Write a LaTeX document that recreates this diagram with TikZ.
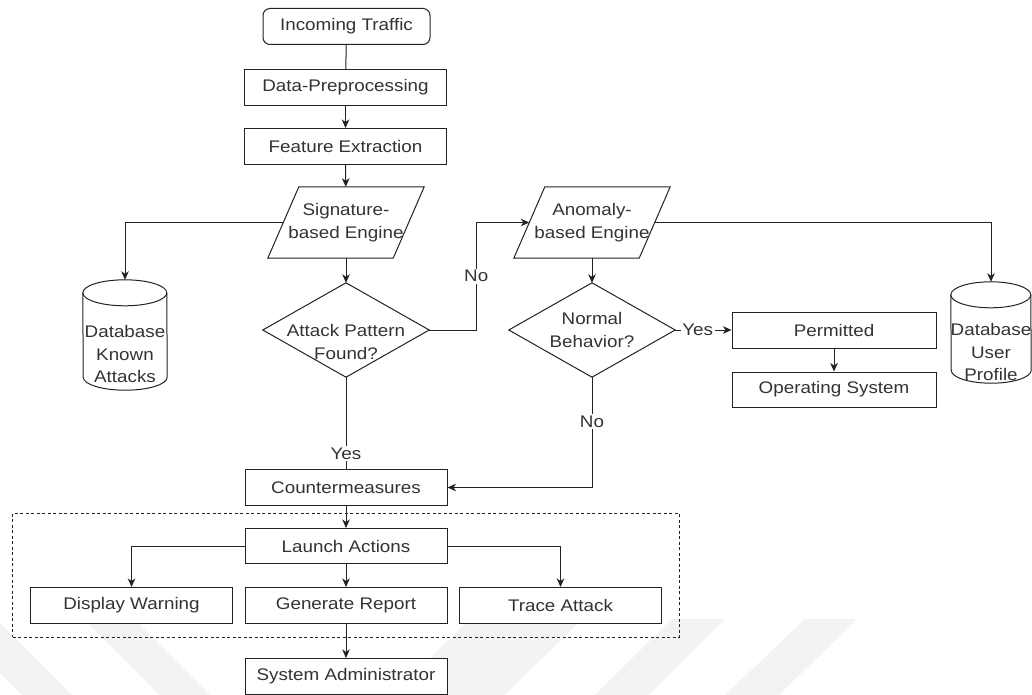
\documentclass[tikz,border=0pt]{standalone}
\usepackage{fontspec}
\setmainfont[FakeStretch=1.12]{Liberation Sans}
\usetikzlibrary{arrows.meta,calc}
\definecolor{ink}{RGB}{34,34,34}
\definecolor{txt}{RGB}{51,51,51}
\definecolor{stripegray}{RGB}{243,243,243}

\begin{document}
\begin{tikzpicture}[x=1pt,y=-1pt,
  font=\fontsize{16.8}{22.5}\selectfont, text=txt,
  line/.style={draw=ink, line width=1pt},
  arr/.style={line, -{Stealth[length=8.5pt,width=7.5pt,inset=2.5pt]}},
  box/.style={line, fill=white, minimum width=202pt, minimum height=36pt, inner sep=0pt},
  area/.style 2 args={minimum width=#1, minimum height=#2, inner sep=0pt, align=center},
  lbl/.style={fill=white, inner sep=1.5pt, text=txt},
]
\useasboundingbox (0,0) rectangle (1032,695);

% faint background stripes
\fill[stripegray] (-54,619) -- (-4,619) -- (72,695) -- (22,695) -- cycle;
\fill[stripegray] (84,619) -- (134,619) -- (210,695) -- (160,695) -- cycle;
\fill[stripegray] (470,619) -- (582,619) -- (505,695) -- (393,695) -- cycle;
\fill[stripegray] (672,619) -- (725,619) -- (649,695) -- (595,695) -- cycle;
\fill[stripegray] (805,619) -- (857,619) -- (779,695) -- (725,695) -- cycle;

% ---- main column ----
\node[box, rounded corners=7pt, minimum width=167pt] (inc) at (346.5,26.5) {Incoming Traffic};
\node[box] (pre) at (345.5,87.5) {Data-Preprocessing};
\node[box] (feat) at (345.5,146.5) {Feature Extraction};

% signature engine (parallelogram)
\node[area={125pt}{71pt}] (sig) at (346,222.5) {Signature-\\based Engine};
\draw[line] ([xshift=-15.5pt]sig.south west) -- ([xshift=15.5pt]sig.north west)
  -- ([xshift=15.5pt]sig.north east) -- ([xshift=-15.5pt]sig.south east) -- cycle;

% anomaly engine (parallelogram)
\node[area={125pt}{71pt}] (anom) at (592,222.5) {Anomaly-\\based Engine};
\draw[line] ([xshift=-15.5pt]anom.south west) -- ([xshift=15.5pt]anom.north west)
  -- ([xshift=15.5pt]anom.north east) -- ([xshift=-15.5pt]anom.south east) -- cycle;

% decisions
\node[area={166pt}{94pt}] (att) at (346,330) {};
\draw[line] (att.north) -- (att.east) -- (att.south) -- (att.west) -- cycle;
\node[align=center, inner sep=0pt] (attT) at ([yshift=-12pt]att.center) {Attack Pattern\\Found?};

\node[area={166pt}{94pt}] (nb) at (592,330) {};
\draw[line] (nb.north) -- (nb.east) -- (nb.south) -- (nb.west) -- cycle;
\node[align=center, inner sep=0pt] (nbT) at (nb.center) {Normal\\Behavior?};

% databases (cylinders)
\node[area={84pt}{110pt}] (db1) at (125,335) {};
\draw[line] ([yshift=-13pt]db1.north west)
  arc[start angle=180, end angle=0, x radius=42pt, y radius=13pt]
  -- ([yshift=13pt]db1.south east)
  arc[start angle=0, end angle=-180, x radius=42pt, y radius=13pt] -- cycle;
\draw[line] ([yshift=-13pt]db1.north west)
  arc[start angle=180, end angle=360, x radius=42pt, y radius=13pt];
\node[align=center, inner sep=0pt] (db1T) at ([yshift=-19pt]db1.center) {Database\\Known\\Attacks};

\node[area={80pt}{101pt}] (db2) at (991,332.5) {};
\draw[line] ([yshift=-13pt]db2.north west)
  arc[start angle=180, end angle=0, x radius=40pt, y radius=13pt]
  -- ([yshift=13pt]db2.south east)
  arc[start angle=0, end angle=-180, x radius=40pt, y radius=13pt] -- cycle;
\draw[line] ([yshift=-13pt]db2.north west)
  arc[start angle=180, end angle=360, x radius=40pt, y radius=13pt];
\node[align=center, inner sep=0pt] (db2T) at ([yshift=-19.5pt]db2.center) {Database\\User\\Profile};

% right branch
\node[box, minimum width=204pt] (perm) at (834,330) {Permitted};
\node[box, minimum width=204pt, minimum height=35pt] (os) at (834,389.5) {Operating System};

% response part
\node[box] (cm) at (346,487.5) {Countermeasures};
\node[line, dashed, dash pattern=on 3pt off 2.5pt, line width=0.9pt,
      minimum width=666.5pt, minimum height=124pt] (grp) at (345.75,575) {};
\node[box, minimum height=35pt] (la) at (346,546) {Launch Actions};
\node[box] (dw) at (131.5,605.5) {Display Warning};
\node[box] (gr) at (346,605.5) {Generate Report};
\node[box] (ta) at (560.5,605.5) {Trace Attack};
\node[box] (sa) at (346,676.5) {System Administrator};

% ---- connectors ----
\draw[line] (inc) -- (pre);
\draw[arr] (pre) -- (feat);
\draw[arr] (feat) -- (sig);
\draw[arr] (sig.west) -| (db1.north);
\draw[arr] (sig) -- (att.north);
\draw[arr] (att.east) -- ++(47,0) |- node[lbl, pos=0.25] {No} (anom.west);
\draw[arr] (anom.east) -| (db2.north);
\draw[arr] (anom) -- (nb.north);
\draw[arr] (nb.east) -- node[lbl, pos=0.4] {Yes} (perm.west);
\draw[arr] (perm) -- (os);
\draw[arr] (nb.south) |- node[lbl, pos=0.2] {No} (cm.east);
\draw[line] (att.south) -- node[lbl, pos=0.83] {Yes} (cm.north);
\draw[arr] (cm) -- (la);
\draw[arr] (la.west) -| (dw.north);
\draw[arr] (la) -- (gr);
\draw[arr] (la.east) -| (ta.north);
\draw[arr] (gr) -- (sa);
\end{tikzpicture}
\end{document}
